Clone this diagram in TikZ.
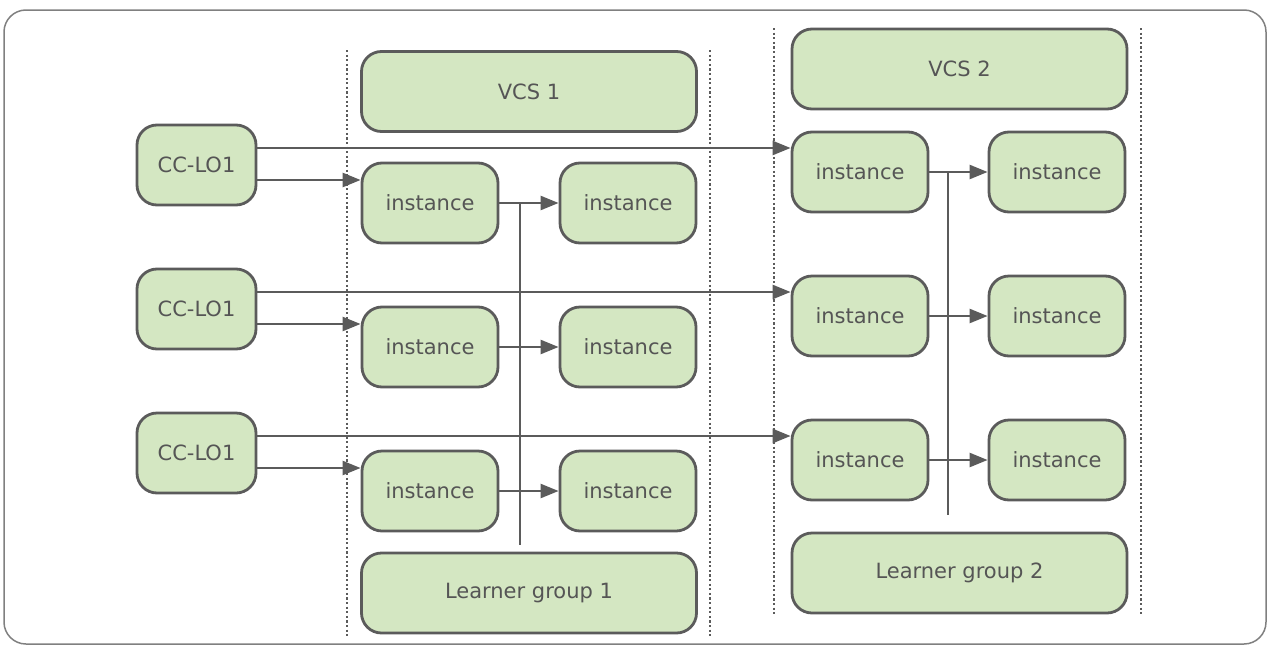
\documentclass[tikz,border=0pt]{standalone}
\usepackage{fontspec}
\setmainfont{DejaVu Sans}
\usetikzlibrary{arrows.meta}
\definecolor{boxfill}{HTML}{D4E7C2}
\definecolor{boxline}{HTML}{5B5B5B}
\definecolor{txt}{HTML}{555555}
\definecolor{frame}{HTML}{808080}
\tikzset{
 box/.style={draw=boxline, fill=boxfill, line width=2.8pt, rounded corners=20pt, minimum width=136pt, minimum height=80pt, inner sep=0pt, text=txt, font=\fontsize{21}{25}\selectfont},
 widebox/.style={box, minimum width=335pt},
 ccbox/.style={box, minimum width=119pt},
 conn/.style={draw=boxline, line width=2.4pt},
 arr/.style={conn, -{Triangle[length=18pt,width=14pt]}},
 sepline/.style={draw=boxline, line width=2.2pt, dash pattern=on 2.2pt off 2.4pt}
}
\begin{document}
\begin{tikzpicture}[x=1pt,y=-1pt]
\useasboundingbox (0,0) rectangle (1271,648);
\draw[draw=frame, line width=1.5pt, rounded corners=22pt] (4,10) rectangle (1266,644);
% separators
\coordinate (s1t) at (347,50); \coordinate (s1b) at (347,636);
\coordinate (s2t) at (710,50); \coordinate (s2b) at (710,636);
\coordinate (s3t) at (774,28); \coordinate (s3b) at (774,614);
\coordinate (s4t) at (1141,28); \coordinate (s4b) at (1141,614);
\draw[sepline] (s1t) -- (s1b);
\draw[sepline] (s2t) -- (s2b);
\draw[sepline] (s3t) -- (s3b);
\draw[sepline] (s4t) -- (s4b);
% nodes
\node[ccbox] (cc1) at (196.5,165) {CC-LO1};
\node[ccbox] (cc2) at (196.5,309) {CC-LO1};
\node[ccbox] (cc3) at (196.5,453) {CC-LO1};
\node[widebox] (vcs1) at (529,91.5) {VCS 1};
\node[widebox] (lg1) at (529,593) {Learner group 1};
\node[box] (a1) at (430,203) {instance};
\node[box] (a2) at (430,347) {instance};
\node[box] (a3) at (430,491) {instance};
\node[box] (b1) at (628,203) {instance};
\node[box] (b2) at (628,347) {instance};
\node[box] (b3) at (628,491) {instance};
\node[widebox] (vcs2) at (959.5,69) {VCS 2};
\node[widebox] (lg2) at (959.5,573) {Learner group 2};
\node[box] (c1) at (860,172) {instance};
\node[box] (c2) at (860,316) {instance};
\node[box] (c3) at (860,460) {instance};
\node[box] (d1) at (1057,172) {instance};
\node[box] (d2) at (1057,316) {instance};
\node[box] (d3) at (1057,460) {instance};
% vertical bars
\coordinate (v1t) at (520,203); \coordinate (v1b) at (520,545);
\coordinate (v2t) at (948,172); \coordinate (v2b) at (948,515);
\draw[conn] (v1t) -- (v1b);
\draw[conn] (v2t) -- (v2b);
% connectors
\foreach \i in {1,2,3}{
  \draw[arr] ([yshift=17pt]cc\i.east) -- ([yshift=17pt]cc\i.east -| c\i.west);
  \draw[arr] ([yshift=-15pt]cc\i.east) -- ([yshift=-15pt]cc\i.east -| a\i.west);
  \draw[arr] (a\i) -- (b\i);
  \draw[arr] (c\i) -- (d\i);
}
\end{tikzpicture}
\end{document}
